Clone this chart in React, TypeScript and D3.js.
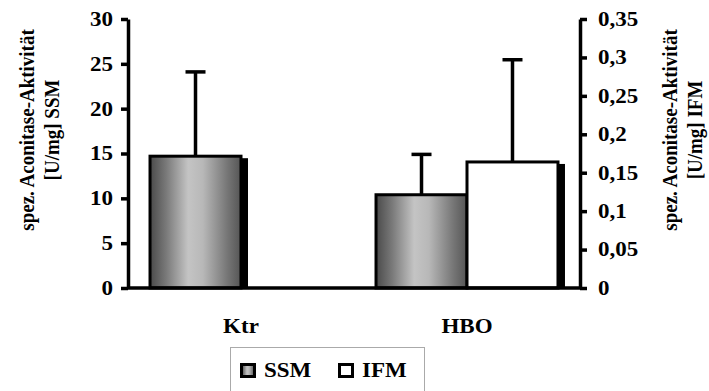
import React, { useEffect, useRef } from "react";
import { select, scaleBand, scaleLinear, axisLeft, axisRight } from "d3";

// categories and series
const categories = ["Ktr", "HBO"];
const seriesKeys = ["SSM", "IFM"];
const ssmValues = [14.7, 10.4];
const ssmErrors = [9.4, 4.5];
const ifmValues: (number | null)[] = [null, 0.164];
const ifmErrors: (number | null)[] = [null, 0.133];
const leftTicks = [0, 5, 10, 15, 20, 25, 30];
const rightTicks = [0, 0.05, 0.1, 0.15, 0.2, 0.25, 0.3, 0.35];
const leftTitle = ["spez. Aconitase-Aktivität", "[U/mg] SSM"];
const rightTitle = ["spez. Aconitase-Aktivität", "[U/mg] IFM"];

const W = 709;
const H = 391;
const FONT = "'Liberation Serif', 'Times New Roman', serif";
const FS = 20;
const SX = 1.15; // text in the original is stretched horizontally

const App = () => {
  const leftRef = useRef<SVGGElement>(null);
  const rightRef = useRef<SVGGElement>(null);

  const x0 = 128;
  const x1 = 580;
  const yTop = 19;
  const yBase = 288;

  const xScale = scaleBand().domain(categories).range([x0, x1]);
  const xInner = scaleBand()
    .domain(seriesKeys)
    .range([0, xScale.bandwidth()])
    .paddingOuter(0.242);
  const yLeft = scaleLinear().domain([0, 30]).range([yBase, yTop]);
  const yRight = scaleLinear().domain([0, 0.35]).range([yBase, yTop]);

  useEffect(() => {
    const fmt = (d: any) => String(+d.toFixed(2)).replace(".", ",");
    const l = select(leftRef.current);
    l.call(axisLeft(yLeft).tickValues(leftTicks).tickSize(7).tickSizeOuter(0).tickFormat(fmt as any));
    const r = select(rightRef.current);
    r.call(axisRight(yRight).tickValues(rightTicks).tickSize(7).tickSizeOuter(0).tickFormat(fmt as any));
    [l, r].forEach((g, i) => {
      g.selectAll("path.domain").attr("stroke", "#000").attr("stroke-width", 3.5);
      g.selectAll(".tick line").attr("stroke", "#000").attr("stroke-width", 3.5);
      g.selectAll(".tick text")
        .attr("x", 0)
        .attr("transform", `translate(${i === 0 ? -15 : 18},0) scale(${SX},1)`)
        .attr("font-family", FONT)
        .attr("font-weight", "bold")
        .attr("font-size", FS)
        .attr("fill", "#000");
    });
  }, []);

  const bw = xInner.bandwidth();
  const bars: any[] = [];
  categories.forEach((c, i) => {
    const items = [
      { key: "SSM", v: ssmValues[i], e: ssmErrors[i], y: yLeft, fill: "url(#ssmGrad)" },
      { key: "IFM", v: ifmValues[i], e: ifmErrors[i], y: yRight, fill: "#fff" },
    ];
    items.forEach((it) => {
      if (it.v == null) return;
      const bx = (xScale(c) as number) + (xInner(it.key) as number);
      const by = it.y(it.v);
      bars.push({ ...it, bx, by, ey: it.y(it.v + (it.e as number)), cat: c });
    });
  });

  const hText = (x: number, y: number, t: string, anchor = "start", key?: string) => (
    <text
      key={key}
      transform={`translate(${x},${y}) scale(${SX},1)`}
      textAnchor={anchor}
      fontFamily={FONT}
      fontWeight="bold"
      fontSize={FS}
    >
      {t}
    </text>
  );

  const vText = (x: number, y: number, t: string, key: string) => (
    <text
      key={key}
      transform={`translate(${x},${y}) rotate(-90) scale(1,${SX})`}
      textAnchor="middle"
      fontFamily={FONT}
      fontWeight="bold"
      fontSize={19}
    >
      {t}
    </text>
  );

  return (
    <svg width={W} height={H} style={{ position: "absolute", left: 0, top: 0, background: "#fff" }}>
      <defs>
        <linearGradient id="ssmGrad" x1="0" x2="1" y1="0" y2="0">
          <stop offset="0%" stopColor="#4a4a4a" />
          <stop offset="18%" stopColor="#7a7a7a" />
          <stop offset="42%" stopColor="#c4c4c4" />
          <stop offset="58%" stopColor="#b8b8b8" />
          <stop offset="85%" stopColor="#767676" />
          <stop offset="100%" stopColor="#555" />
        </linearGradient>
      </defs>

      {/* shadows */}
      {bars.map((b) => (
        <rect key={"s" + b.cat + b.key} x={b.bx + 7} y={b.by + 2} width={bw} height={yBase - b.by - 2} fill="#000" />
      ))}
      {/* bars */}
      {bars.map((b) => (
        <rect
          key={"b" + b.cat + b.key}
          x={b.bx}
          y={b.by}
          width={bw}
          height={yBase - b.by}
          fill={b.fill}
          stroke="#000"
          strokeWidth={3}
        />
      ))}
      {/* error bars */}
      {bars.map((b) => {
        const cx = b.bx + bw / 2;
        return (
          <g key={"e" + b.cat + b.key} stroke="#000" strokeWidth={3.5}>
            <line x1={cx} x2={cx} y1={b.by} y2={b.ey} />
            <line x1={cx - 10} x2={cx + 10} y1={b.ey} y2={b.ey} />
          </g>
        );
      })}

      {/* baseline */}
      <line x1={x0} x2={x1} y1={yBase} y2={yBase} stroke="#000" strokeWidth={3.5} />
      <g ref={leftRef} transform={`translate(${x0},0)`} />
      <g ref={rightRef} transform={`translate(${x1},0)`} />

      {/* category labels */}
      {categories.map((c) =>
        hText((xScale(c) as number) + xScale.bandwidth() / 2, 333, c, "middle", c)
      )}

      {/* axis titles */}
      {leftTitle.map((t, i) => vText(34 + i * 25, 130, t, "lt" + i))}
      {rightTitle.map((t, i) => vText(677 + i * 25, 130, t, "rt" + i))}

      {/* legend */}
      <rect x={230.5} y={347.5} width={194} height={60} fill="#fff" stroke="#aaa" strokeWidth={1} />
      {seriesKeys.map((k, i) => {
        const lx = 240 + i * 98;
        return (
          <g key={"lg" + k}>
            <rect x={lx + 1.5} y={364.5} width={13} height={12} fill={k === "SSM" ? "url(#ssmGrad)" : "#fff"} stroke="#000" strokeWidth={3} />
            {hText(lx + 24, 377, k)}
          </g>
        );
      })}
    </svg>
  );
};

export default App;
